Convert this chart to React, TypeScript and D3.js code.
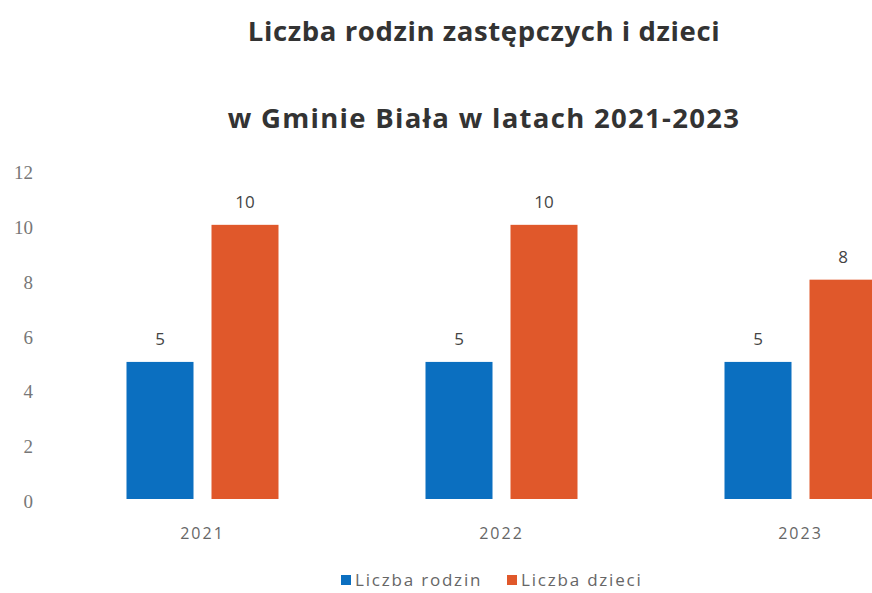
import React from "react";
import * as d3 from "d3";

const categories = ["2021", "2022", "2023"];
const seriesNames = ["Liczba rodzin", "Liczba dzieci"];
const rodzin = [5, 5, 5];
const dzieci = [10, 10, 8];
const yTicks = [0, 2, 4, 6, 8, 10, 12];
const titleLines = ["Liczba rodzin zastępczych i dzieci", "w Gminie Biała w latach 2021-2023"];
const colors = ["#0b6fc0", "#e0582b"];

export default function App() {
  const W = 872, H = 593;
  const x = d3.scaleBand().domain(categories).range([53, 950]).paddingInner(0).paddingOuter(0);
  const y = d3.scaleLinear().domain([0, 12]).range([499, 170]);
  const barW = 67;
  const gap = 18;
  const series = [rodzin, dzieci];
  const sans = "'Open Sans', 'Noto Sans', sans-serif";
  return (
    <svg width={W} height={H} style={{ position: "absolute", left: 0, top: 0, background: "#fff" }}>
      {titleLines.map((t, i) => (
        <text key={t} x={484} y={[41, 128][i]} textAnchor="middle" fontFamily={sans} fontWeight={700} fontSize={27.5} letterSpacing={[0.6, 1.3][i]} fill="#333">
          {t}
        </text>
      ))}
      {yTicks.map((v) => (
        <text key={v} x={33} y={y(v) + 9} textAnchor="end" fontFamily="'Liberation Serif', 'DejaVu Serif', serif" fontSize={19} fill="#777">
          {v}
        </text>
      ))}
      {categories.map((c, ci) => {
        const cx = (x(c) as number) + x.bandwidth() / 2;
        return (
          <g key={c}>
            {series.map((s, si) => {
              const bx = cx - gap / 2 - barW + si * (barW + gap);
              return (
                <g key={si}>
                  <rect x={bx} y={y(s[ci])} width={barW} height={y(0) - y(s[ci])} fill={colors[si]} />
                  <text x={bx + barW / 2} y={y(s[ci]) - 17} textAnchor="middle" fontFamily={sans} fontSize={17} fill="#444">
                    {s[ci]}
                  </text>
                </g>
              );
            })}
            <text x={cx} y={539} textAnchor="middle" fontFamily={sans} fontSize={16} letterSpacing={2} fill="#666">
              {c}
            </text>
          </g>
        );
      })}
      {seriesNames.map((n, i) => (
        <g key={n}>
          <rect x={[341, 507][i]} y={575} width={10} height={10} fill={colors[i]} />
          <text x={[355, 521][i]} y={586} fontFamily={sans} fontSize={17} fill="#666" letterSpacing={1.8}>
            {n}
          </text>
        </g>
      ))}
    </svg>
  );
}
